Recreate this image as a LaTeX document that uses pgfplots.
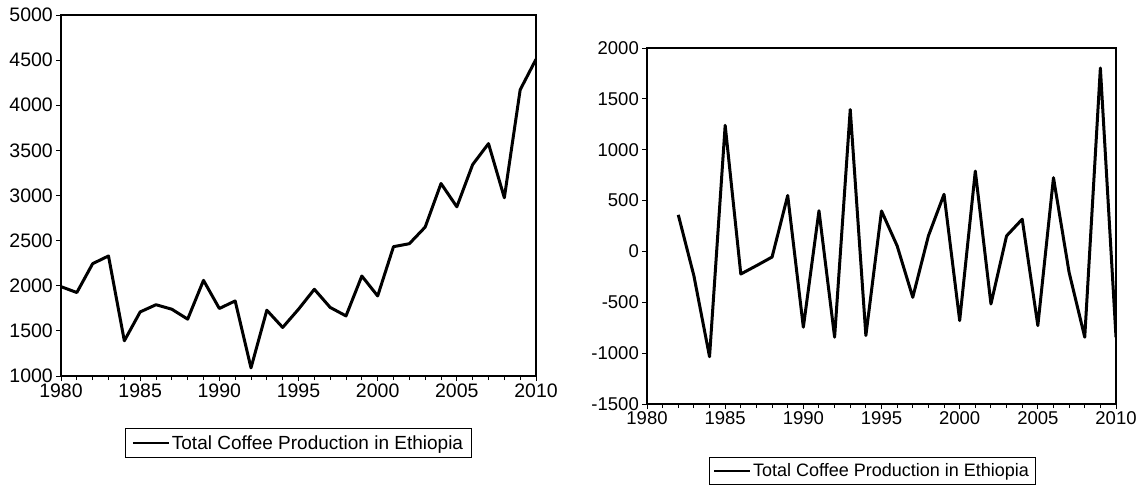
\documentclass[border=0pt]{standalone}
\usepackage{fontspec}
\setmainfont{Liberation Sans}
\usepackage{pgfplots}
\pgfplotsset{compat=1.18}

\pgfplotstableread{
year val
1980 1990
1981 1925
1982 2245
1983 2330
1984 1390
1985 1710
1986 1790
1987 1740
1988 1630
1989 2060
1990 1748
1991 1832
1992 1090
1993 1729
1994 1538
1995 1740
1996 1961
1997 1760
1998 1666
1999 2108
2000 1887
2001 2433
2002 2466
2003 2650
2004 3133
2005 2875
2006 3343
2007 3575
2008 2975
2009 4171
2010 4510
}\levels

\pgfplotstableread{
year val
1982 360
1983 -240
1984 -1035
1985 1240
1986 -222
1987 -140
1988 -55
1989 550
1990 -745
1991 400
1992 -843
1993 1395
1994 -827
1995 398
1996 55
1997 -451
1998 153
1999 562
2000 -680
2001 790
2002 -517
2003 153
2004 317
2005 -729
2006 725
2007 -206
2008 -843
2009 1804
2010 -843
}\diffs

\begin{document}
\begin{tikzpicture}
\useasboundingbox (0pt,0pt) rectangle (1142pt,-491pt);
\pgfplotsset{
  every axis/.append style={
    scale only axis,
    axis line style={line width=1.3pt},
    tick style={black, line width=1pt},
    major tick length=5pt,
    minor tick length=4pt,
    tick align=outside,
    xtick pos=bottom, ytick pos=left,
    xmin=1980, xmax=2010,
    xtick={1980,1985,...,2010},
    minor x tick num=4,
    yticklabel style={inner xsep=3pt},
    xticklabel style={inner ysep=2.5pt},
    /pgf/number format/assume math mode=true,
    /pgf/number format/set thousands separator={},
    legend cell align=left,
    legend image code/.code={\draw[black,line width=2pt] (0pt,0pt) -- (36pt,0pt);},
  }
}

\begin{axis}[
  at={(61pt,-376pt)}, anchor=south west,
  width=475pt, height=361pt,
  ymin=1000, ymax=5000,
  ytick={1000,1500,...,5000},
  tick label style={font=\fontsize{19.5}{21}\selectfont},
  legend style={draw=black, line width=1pt, font=\fontsize{19}{21}\selectfont,
    at={(0.5,-0.144)}, anchor=north, inner xsep=6pt, inner ysep=5pt},
]
\addplot[black, line width=3pt, line join=round] table[x=year,y=val] {\levels};
\addlegendentry{Total Coffee Production in Ethiopia}
\end{axis}

\begin{axis}[
  at={(647pt,-404pt)}, anchor=south west,
  width=469pt, height=356pt,
  ymin=-1500, ymax=2000,
  ytick={-1500,-1000,...,2000},
  tick label style={font=\fontsize{18.5}{20}\selectfont},
  legend style={draw=black, line width=1pt, font=\fontsize{18}{20}\selectfont,
    at={(0.48,-0.149)}, anchor=north, inner xsep=4pt, inner ysep=4pt},
]
\addplot[black, line width=3pt, line join=round] table[x=year,y=val] {\diffs};
\addlegendentry{Total Coffee Production in Ethiopia}
\end{axis}
\end{tikzpicture}
\end{document}
